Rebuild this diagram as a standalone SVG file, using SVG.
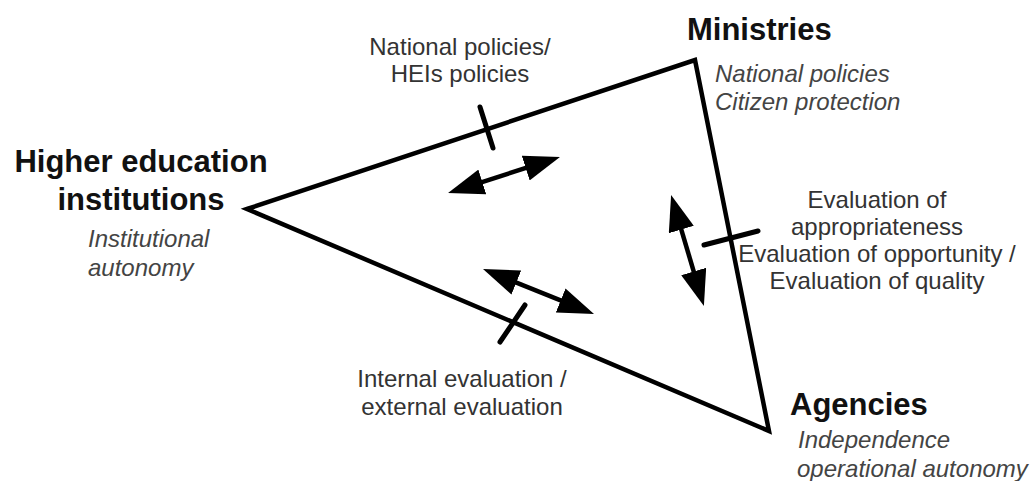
<svg xmlns="http://www.w3.org/2000/svg" width="1031" height="481" viewBox="0 0 1031 481">
  <style>
    .title { font-family: "Liberation Sans", Arial, sans-serif; font-weight: bold; font-size: 31px; fill: #111; }
    .role { font-family: "Liberation Sans", Arial, sans-serif; font-style: italic; font-size: 24px; fill: #444; }
    .lbl { font-family: "Liberation Sans", Arial, sans-serif; font-size: 24px; fill: #333; }
    .edge { fill: none; stroke: #000; stroke-width: 4.5; stroke-linejoin: miter; }
    .tick { stroke: #000; stroke-width: 5; stroke-linecap: round; }
    .arr { stroke: #000; stroke-width: 4.5; fill: none; marker-start: url(#head); marker-end: url(#head); }
  </style>
  <defs>
    <marker id="head" viewBox="0 0 36 26" refX="6" refY="13" markerWidth="36" markerHeight="26" markerUnits="userSpaceOnUse" orient="auto-start-reverse">
      <path d="M0,0 L36,13 L0,26 Z" fill="#000"/>
    </marker>
  </defs>
  <rect width="1031" height="481" fill="#fff"/>

  <g id="connectors">
    <path class="edge" d="M247,209 L695,60 L769,431 Z"/>
    <line class="tick" x1="480" y1="107" x2="493" y2="148"/>
    <line class="tick" x1="704" y1="245" x2="758" y2="231"/>
    <line class="tick" x1="500" y1="342" x2="525" y2="305"/>
    <line class="arr" x1="476.6" y1="183.8" x2="531.4" y2="166.2"/>
    <line class="arr" x1="510.8" y1="280.3" x2="566.2" y2="302.7"/>
    <line class="arr" x1="679.6" y1="223.8" x2="695.4" y2="277.2"/>
  </g>

  <g id="hei">
    <text class="title" x="141" y="172" text-anchor="middle">Higher education</text>
    <text class="title" x="141" y="210" text-anchor="middle">institutions</text>
    <text class="role" x="88" y="247">Institutional</text>
    <text class="role" x="88" y="276">autonomy</text>
  </g>

  <g id="ministries">
    <text class="title" x="687" y="40">Ministries</text>
    <text class="role" x="715" y="82">National policies</text>
    <text class="role" x="715" y="110">Citizen protection</text>
  </g>

  <g id="agencies">
    <text class="title" x="790" y="415">Agencies</text>
    <text class="role" x="798" y="448">Independence</text>
    <text class="role" x="797" y="477">operational autonomy</text>
  </g>

  <g id="label-policies">
    <text class="lbl" x="460" y="55" text-anchor="middle">National policies/</text>
    <text class="lbl" x="460" y="82" text-anchor="middle">HEIs policies</text>
  </g>

  <g id="label-evaluation-ministry">
    <text class="lbl" x="877" y="208" text-anchor="middle">Evaluation of</text>
    <text class="lbl" x="877" y="235" text-anchor="middle">appropriateness</text>
    <text class="lbl" x="877" y="262" text-anchor="middle">Evaluation of opportunity /</text>
    <text class="lbl" x="877" y="289" text-anchor="middle">Evaluation of quality</text>
  </g>

  <g id="label-evaluation-internal">
    <text class="lbl" x="462" y="387" text-anchor="middle">Internal evaluation /</text>
    <text class="lbl" x="462" y="415" text-anchor="middle">external evaluation</text>
  </g>
</svg>
